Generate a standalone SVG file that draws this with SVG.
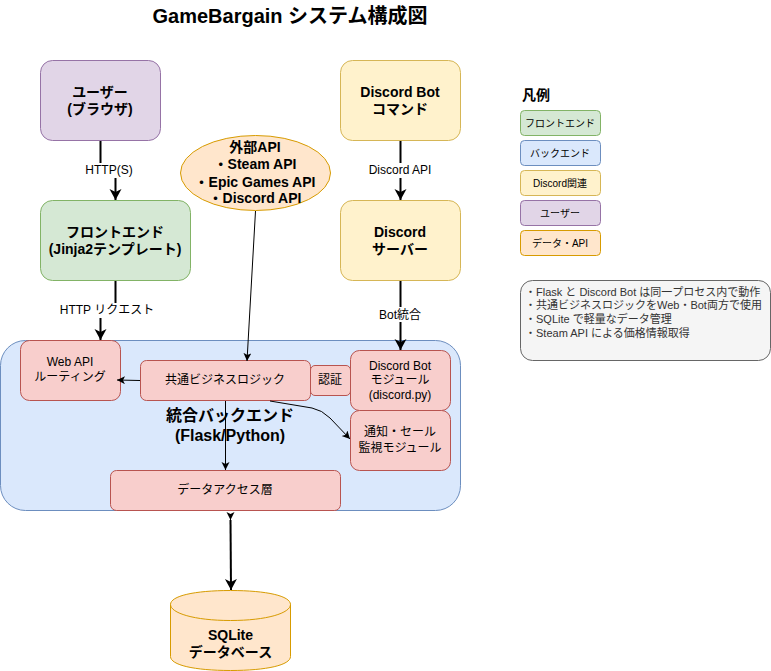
<svg xmlns="http://www.w3.org/2000/svg" width="771" height="671" viewBox="0 0 771 671">
<style>
text{font-family:"Liberation Sans","Noto Sans CJK JP",sans-serif;fill:#000;text-anchor:middle}
.b{font-weight:bold}
.t14{font-size:14px}.t16{font-size:16px}.t12{font-size:12px}.t10{font-size:10px}
.note{font-size:11px;fill:#333;text-anchor:start}
.green{fill:#d5e8d4;stroke:#82b366}
.blue{fill:#dae8fc;stroke:#6c8ebf}
.yellow{fill:#fff2cc;stroke:#d6b656}
.purple{fill:#e1d5e7;stroke:#9673a6}
.orange{fill:#ffe6cc;stroke:#d79b00}
.red{fill:#f8cecc;stroke:#b85450}
.thick{fill:none;stroke:#000;stroke-width:2}
.thin{fill:none;stroke:#000;stroke-width:1}
.lbl{fill:#fff}
</style>
<defs>
<marker id="a2" markerUnits="userSpaceOnUse" markerWidth="14" markerHeight="14" refX="11" refY="6" orient="auto"><path d="M0 0L11 6L0 12L3 6Z" fill="#000"/></marker>
<marker id="a1" markerUnits="userSpaceOnUse" markerWidth="12" markerHeight="10" refX="8" refY="4" orient="auto"><path d="M0 0L8 4L0 8L2 4Z" fill="#000"/></marker>
</defs>
<text x="290" y="23" class="b" style="font-size:20px">GameBargain システム構成図</text>
<g id="backend"><rect x="0.5" y="340.5" width="460" height="170" rx="25" class="blue"/><text x="230" y="421" class="b t16">統合バックエンド</text><text x="230" y="441" class="b t16">(Flask/Python)</text></g>
<g id="user"><rect x="40.5" y="60.5" width="120" height="80" rx="12" class="purple"/><text x="100" y="97" class="b t14">ユーザー</text><text x="100" y="114" class="b t14">(ブラウザ)</text></g>
<g id="frontend"><rect x="40.5" y="200.5" width="150" height="80" rx="12" class="green"/><text x="115" y="237" class="b t14">フロントエンド</text><text x="115" y="254" class="b t14">(Jinja2テンプレート)</text></g>
<g id="bot-cmd"><rect x="340.5" y="60.5" width="120" height="80" rx="12" class="yellow"/><text x="400" y="97" class="b t14">Discord Bot</text><text x="400" y="114" class="b t14">コマンド</text></g>
<g id="server"><rect x="340.5" y="200.5" width="120" height="80" rx="12" class="yellow"/><text x="400" y="237" class="b t14">Discord</text><text x="400" y="254" class="b t14">サーバー</text></g>
<g id="external"><ellipse cx="255.5" cy="173" rx="75" ry="37.5" class="orange"/><text x="255" y="152" class="b t14">外部API</text><text x="255" y="169" class="b t14">・Steam API</text><text x="255" y="187" class="b t14">・Epic Games API</text><text x="255" y="203" class="b t14">・Discord API</text></g>
<g id="webapi"><rect x="20.5" y="340.5" width="100" height="60" rx="9" class="red"/><text x="70" y="366" class="t12">Web API</text><text x="70" y="381" class="t12">ルーティング</text></g>
<g id="logic"><rect x="140.5" y="360.5" width="170" height="40" rx="6" class="red"/><text x="225" y="384" class="t12">共通ビジネスロジック</text></g>
<g id="auth"><rect x="310.5" y="365.5" width="40" height="30" rx="4.5" class="red"/><text x="330" y="384" class="t12">認証</text></g>
<g id="botmod"><rect x="350.5" y="350.5" width="100" height="60" rx="9" class="red"/><text x="400" y="370" class="t12">Discord Bot</text><text x="400" y="384" class="t12">モジュール</text><text x="400" y="399" class="t12">(discord.py)</text></g>
<g id="notify"><rect x="350.5" y="410.5" width="100" height="60" rx="9" class="red"/><text x="400" y="436" class="t12">通知・セール</text><text x="400" y="452" class="t12">監視モジュール</text></g>
<g id="dal"><rect x="110.5" y="470.5" width="230" height="40" rx="6" class="red"/><text x="225" y="494" class="t12">データアクセス層</text></g>
<g id="sqlite"><path d="M170.5 604.5C170.5 596 194 590.5 230.5 590.5S290.5 596 290.5 604.5V656.5C290.5 665 267 670.5 230.5 670.5S170.5 665 170.5 656.5Z" class="orange"/><path d="M170.5 604.5C170.500 613 194 620.5 230.5 620.5S290.5 613 290.5 604.5" class="orange" style="fill:none"/><text x="230.5" y="640" class="b t14">SQLite</text><text x="230.5" y="657" class="b t14">データベース</text></g>
<g id="legend"><text x="536" y="100" class="b t14">凡例</text>
<rect x="520.5" y="110.5" width="80" height="25" rx="4" class="green"/><text x="560" y="127" class="t10">フロントエンド</text>
<rect x="520.5" y="140.5" width="80" height="25" rx="4" class="blue"/><text x="560" y="157" class="t10">バックエンド</text>
<rect x="520.5" y="170.5" width="80" height="25" rx="4" class="yellow"/><text x="560" y="187" class="t10">Discord関連</text>
<rect x="520.5" y="200.5" width="80" height="25" rx="4" class="purple"/><text x="560" y="217" class="t10">ユーザー</text>
<rect x="520.5" y="230.5" width="80" height="25" rx="4" class="orange"/><text x="560" y="247" class="t10">データ・API</text></g>
<g id="note"><rect x="520.5" y="280.5" width="250" height="80" rx="12" fill="#f5f5f5" stroke="#666"/>
<text x="525" y="296" class="note">・Flask と Discord Bot は同一プロセス内で動作</text><text x="525" y="309" class="note">・共通ビジネスロジックをWeb・Bot両方で使用</text><text x="525" y="323" class="note">・SQLite で軽量なデータ管理</text><text x="525" y="337" class="note">・Steam API による価格情報取得</text></g>
<g id="connectors">
<path d="M100.5 141V170H115.5V200" class="thick" marker-end="url(#a2)"/>
<path d="M115.5 281V310H100.5V340" class="thick" marker-end="url(#a2)"/>
<path d="M400.5 141V200" class="thick" marker-end="url(#a2)"/>
<path d="M400.5 281V350" class="thick" marker-end="url(#a2)"/>
<path d="M255.5 211L247 361" class="thin" marker-end="url(#a1)"/>
<path d="M140 380.5L117 380" class="thin" marker-end="url(#a1)"/>
<path d="M225.5 401V470" class="thin" marker-end="url(#a1)"/>
<path d="M270 401L312 408Q322 410 330 418L350 439" class="thin" marker-end="url(#a1)"/>
<path d="M230.5 518V520" class="thin" marker-end="url(#a1)"/>
<path d="M230.5 520L231 590" class="thick" marker-end="url(#a2)"/>
<rect x="84" y="163" width="49" height="15" class="lbl"/><text x="109" y="174" class="t12">HTTP(S)</text>
<rect x="60" y="303" width="95" height="15" class="lbl"/><text x="107" y="314" class="t12">HTTP リクエスト</text>
<rect x="368" y="163" width="65" height="15" class="lbl"/><text x="400" y="174" class="t12">Discord API</text>
<rect x="379" y="307" width="43" height="15" class="lbl"/><text x="400" y="319" class="t12">Bot統合</text>
</g>
</svg>
